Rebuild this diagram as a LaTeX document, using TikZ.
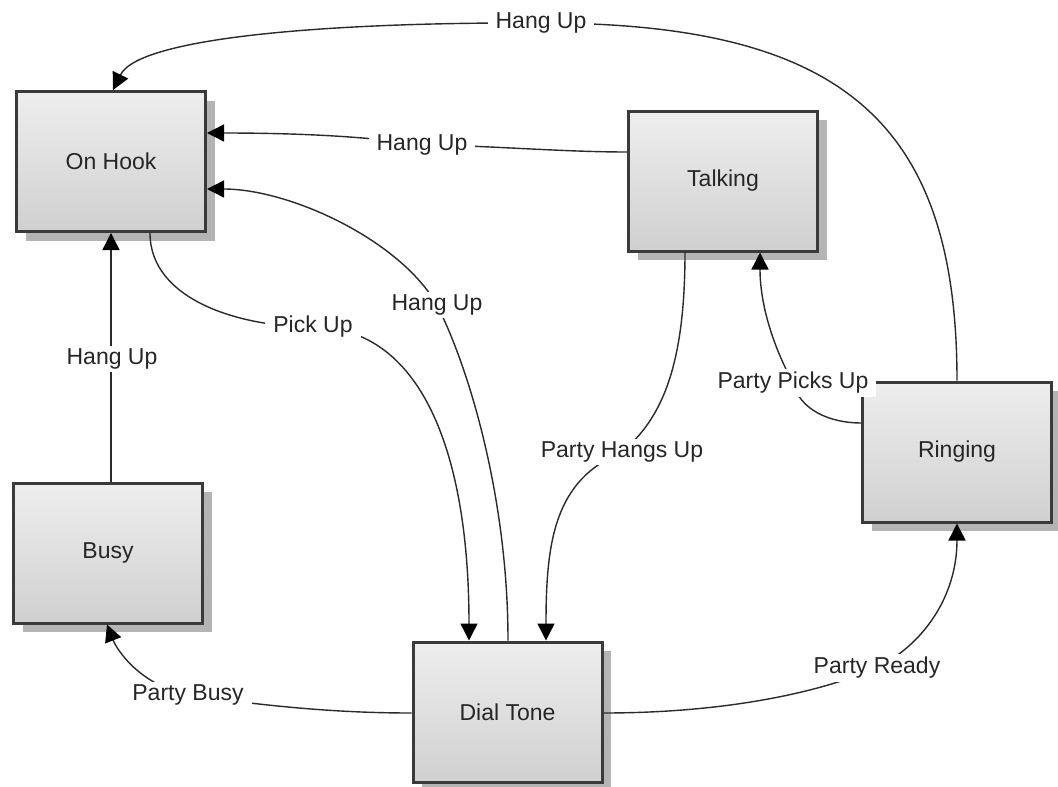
\documentclass[tikz,border=0pt]{standalone}
\usepackage{fontspec}
\setmainfont{Liberation Sans}
\usetikzlibrary{arrows.meta,shadows,calc}
\definecolor{boxtop}{HTML}{EEEEEE}
\definecolor{boxbot}{HTML}{D0D0D0}
\definecolor{boxline}{HTML}{3A3A3A}
\definecolor{shadecol}{HTML}{B4B4B4}
\definecolor{wirecol}{HTML}{2A2A2A}
\begin{document}
\begin{tikzpicture}[x=1pt,y=-1pt,
  state/.style={draw=boxline, line width=3pt, top color=boxtop, bottom color=boxbot,
    minimum width=189pt, minimum height=140pt, inner sep=0pt,
    font=\fontsize{23}{27}\selectfont, text=black!85,
    drop shadow={shadow xshift=9pt, shadow yshift=-9pt, opacity=1, fill=shadecol}},
  lbl/.style={fill=white, inner xsep=8pt, inner ysep=3pt,
    font=\fontsize{23}{27}\selectfont, text=black!85},
  wire/.style={draw=wirecol, line width=1.4pt},
  arr/.style={wire, -{Triangle[length=17pt,width=17pt,color=black]}}
]
\useasboundingbox[fill=white] (0,0) rectangle (1058,787);

% states
\node[state] (onhook)  at (111,161.5) {On Hook};
\node[state] (talking) at (723,181)   {Talking};
\node[state] (busy)    at (108,553)   {Busy};
\node[state] (ringing) at (957,452)   {Ringing};
\node[state] (dial)    at (507.5,712) {Dial Tone};

% ports
\coordinate (ohtop) at ($(onhook.north)+(2,0)$);
\coordinate (ohr1)  at ($(onhook.east)+(0,-28.5)$);
\coordinate (ohr2)  at ($(onhook.east)+(0,27.5)$);
\coordinate (ohb2)  at ($(onhook.south)+(39,0)$);
\coordinate (tkl)   at ($(talking.west)+(0,-29)$);
\coordinate (tkb1)  at ($(talking.south)+(-38,0)$);
\coordinate (tkb2)  at ($(talking.south)+(37,0)$);
\coordinate (rgl)   at ($(ringing.west)+(0,-29)$);
\coordinate (dtt1)  at ($(dial.north)+(-38.5,0)$);
\coordinate (dtt2)  at ($(dial.north)+(0.5,0)$);
\coordinate (dtt3)  at ($(dial.north)+(38.5,0)$);
\coordinate (dtl)   at ($(dial.west)+(0,1)$);
\coordinate (dtr)   at ($(dial.east)+(0,1)$);
\coordinate (bsb)   at ($(busy.south)+(-1,0)$);

% label positions
\coordinate (l1) at (541,23);
\coordinate (l2) at (422,145);
\coordinate (l3) at (437,305);
\coordinate (l4) at (313,327);
\coordinate (l5) at (622,452);
\coordinate (l6) at (793,383);
\coordinate (l7) at (112,359);
\coordinate (l8) at (188,695);
\coordinate (l9) at (877,668);

% connectors
\draw[arr] (ringing.north) .. controls (957,120) and (840,23) .. (l1)
  .. controls (350,22) and (140,35) .. (ohtop);
\draw[arr] (tkl) .. controls (560,152) and (480,145) .. (l2)
  .. controls (360,135) and (280,133) .. (ohr1);
\draw[arr] (dtt2) .. controls (508,500) and (470,370) .. (l3)
  .. controls (400,240) and (290,189) .. (ohr2);
\draw[arr] (ohb2) .. controls (150,300) and (240,327) .. (l4)
  .. controls (420,327) and (469,450) .. (dtt1);
\draw[arr] (tkb1) .. controls (685,370) and (660,420) .. (l5)
  .. controls (555,480) and (546,540) .. (dtt3);
\draw[arr] (rgl) .. controls (830,423) and (800,410) .. (l6)
  .. controls (770,340) and (760,300) .. (tkb2);
\draw[arr] (busy.north -| onhook.south) -- (onhook.south);
\draw[arr] (dtl) .. controls (330,713) and (260,705) .. (l8)
  .. controls (140,685) and (117,650) .. (bsb);
\draw[arr] (dtr) .. controls (700,713) and (800,700) .. (l9)
  .. controls (930,640) and (957,590) .. (ringing.south);

% labels
\node[lbl] (t1) at (l1) {Hang Up};
\node[lbl] (t2) at (l2) {Hang Up};
\node[lbl] (t3) at (l3) {Hang Up};
\node[lbl] (t4) at (l4) {Pick Up};
\node[lbl] (t5) at (l5) {Party Hangs Up};
\node[lbl] (t6) at (l6) {Party Picks Up};
\node[lbl] (t7) at (l7) {Hang Up};
\node[lbl] (t8) at (l8) {Party Busy};
\node[lbl] (t9) at (l9) {Party Ready};
\end{tikzpicture}
\end{document}
